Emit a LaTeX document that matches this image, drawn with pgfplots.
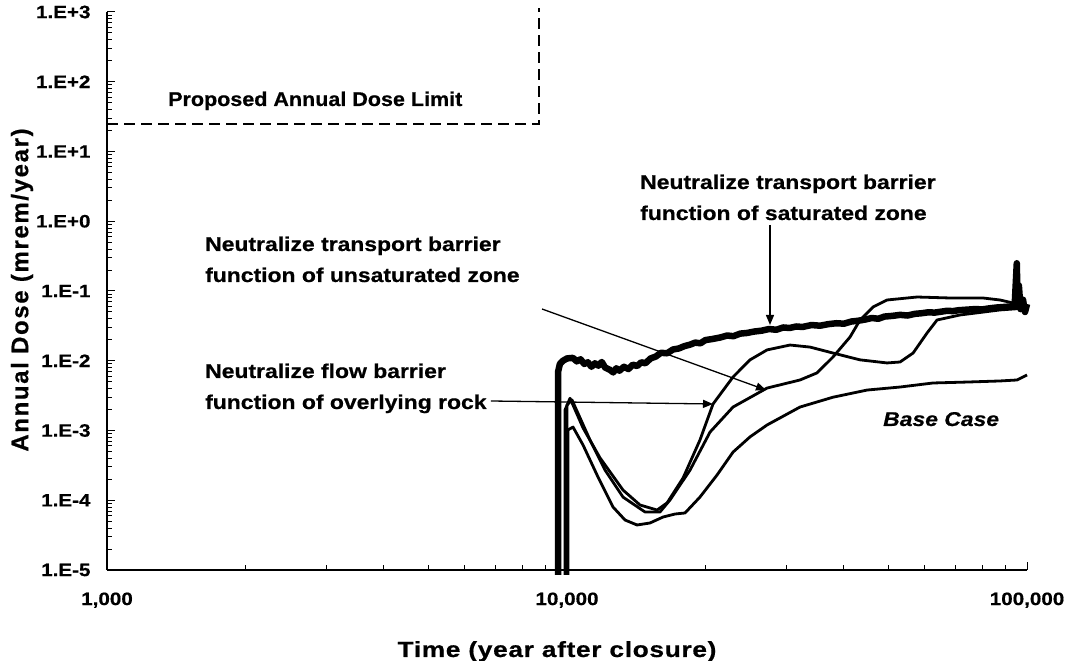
\documentclass[border=0pt]{standalone}
\usepackage{fontspec}
\setmainfont{Liberation Sans}
\usepackage{pgfplots}
\pgfplotsset{compat=1.18}
\usetikzlibrary{arrows.meta}
\newfontfamily\tickfont[FakeStretch=1.15,FakeBold=0.6]{Liberation Sans}
\newfontfamily\annfont[FakeStretch=1.15,FakeBold=0.6]{Liberation Sans}
\newfontfamily\propfont[FakeStretch=1.08,FakeBold=0.6]{Liberation Sans}
\newfontfamily\ylabfont[LetterSpace=7,FakeBold=0.6]{Liberation Sans}
\newfontfamily\xlabfont[FakeStretch=1.2,LetterSpace=3,FakeBold=0.6]{Liberation Sans}
\begin{document}
\begin{tikzpicture}[x=1bp,y=1bp]
\begin{axis}[
  at={(0,0)}, anchor=south west,
  scale only axis, width=920bp, height=558bp,
  xmode=log, ymode=log,
  xmin=1000, xmax=100000, ymin=1e-5, ymax=1e3,
  axis lines*=left,
  axis line style={line width=1.6bp},
  clip=false,
  xtick={1000,10000,100000},
  xticklabels={{1,000},{10,000},{100,000}},
  minor xtick={2000,3000,4000,5000,6000,7000,8000,9000,20000,30000,40000,50000,60000,70000,80000,90000},
  ytick={1e-5,1e-4,1e-3,1e-2,1e-1,1,10,100,1000},
  yticklabels={1.E-5,1.E-4,1.E-3,1.E-2,1.E-1,1.E+0,1.E+1,1.E+2,1.E+3},
  minor ytick={2e-5,3e-5,4e-5,5e-5,6e-5,7e-5,8e-5,9e-5,
    2e-4,3e-4,4e-4,5e-4,6e-4,7e-4,8e-4,9e-4,
    2e-3,3e-3,4e-3,5e-3,6e-3,7e-3,8e-3,9e-3,
    2e-2,3e-2,4e-2,5e-2,6e-2,7e-2,8e-2,9e-2,
    0.2,0.3,0.4,0.5,0.6,0.7,0.8,0.9,
    2,3,4,5,6,7,8,9,
    20,30,40,50,60,70,80,90,
    200,300,400,500,600,700,800,900},
  tick align=inside,
  major tick length=8bp, minor tick length=5bp,
  every tick/.style={black, line width=1bp},
  ticklabel style={font=\tickfont\bfseries\fontsize{18}{20}\selectfont},
  yticklabel style={xshift=-13bp},
  xticklabel style={yshift=-19bp},
]
% proposed annual dose limit (25 mrem/year)
\addplot[black, line width=1.6bp, dash pattern=on 11bp off 6bp] coordinates {(1000,25) (8700,25) (8700,1150)};

% Base case
\addplot[black, line width=2.8bp, line join=round] coordinates {
(10050,8.5e-6) (10050,0.00102) (10305,0.00112) (10834,0.00062) (11623,0.00023) (12589,0.00008)
(13368,0.0000521) (14197,0.0000442) (15147,0.0000472) (16172,0.0000575) (17172,0.0000635)
(18052,0.0000657) (19457,0.000111) (21190,0.00023) (22956,0.00049) (24994,0.00081)
(27220,0.0012) (32103,0.00217) (37862,0.0030) (44898,0.0038) (52967,0.0042) (62477,0.0048)
(74055,0.00495) (87367,0.00513) (95127,0.0053) (100000,0.00625)};

% Neutralize flow barrier function of overlying rock
\addplot[black, line width=2.8bp, line join=round] coordinates {
(9900,8.5e-6) (9900,0.00197) (10151,0.0029) (10834,0.00109) (11799,0.000404) (13234,0.000140)
(14411,0.0000855) (15694,0.0000724) (16499,0.0000915) (17874,0.000208) (19457,0.00073)
(20770,0.0024) (22956,0.00585) (24994,0.0103) (27220,0.0143) (30533,0.0168) (33754,0.0157)
(37862,0.0129) (43352,0.0103) (49621,0.0093) (52967,0.0096) (56538,0.0129) (60632,0.025)
(63747,0.0384) (71510,0.0453) (87367,0.0535) (100000,0.057)};

% Neutralize transport barrier function of unsaturated zone
\addplot[black, line width=2.8bp, line join=round] coordinates {
(10000,8.5e-6) (10000,0.00232) (10253,0.00274) (11220,0.00073) (12097,0.00027) (13234,0.000111)
(14776,0.0000679) (15928,0.0000679) (16748,0.000101) (18509,0.00027) (20461,0.00095)
(22956,0.00217) (27220,0.00406) (32103,0.0053) (34956,0.0067) (37862,0.0113) (41234,0.0219)
(43352,0.0384) (46265,0.059) (49621,0.0743) (57684,0.082) (68027,0.0794) (80238,0.0794)
(87367,0.0743) (93245,0.0673) (100000,0.057)};

% Neutralize transport barrier function of saturated zone
\addplot[black, line width=6.5bp, line join=round] coordinates {
(9560,8.5e-6) (9560,0.0069) (9650,0.0090) (9800,0.0100) (10000,0.0108) (10300,0.0110)
(10500,0.0098) (10700,0.0105) (10900,0.0090) (11100,0.0095) (11300,0.0082) (11500,0.0092)
(11700,0.0085) (11900,0.0096) (12100,0.0080) (12400,0.0074) (12600,0.0068) (12800,0.0078)
(13000,0.0072) (13300,0.0082) (13600,0.0076) (13900,0.0088) (14200,0.0084) (14500,0.0095)
(14800,0.0092) (15200,0.0108) (15600,0.0115) (16000,0.0130) (16500,0.0128) (17000,0.0145)
(17500,0.0150) (18000,0.0162) (18500,0.0170) (19000,0.0182) (19500,0.0178) (20000,0.0198)
(20700,0.0205) (21500,0.0215) (22300,0.0230) (23000,0.0225) (23800,0.0245) (24600,0.0250)
(25500,0.0262) (26500,0.0270) (27500,0.0285) (28500,0.0278) (29500,0.0300) (30500,0.0295)
(31500,0.0310) (32500,0.0305) (34000,0.0325) (35500,0.0318) (37000,0.0335) (38500,0.0345)
(40000,0.0340) (41500,0.0365) (43000,0.0375) (44500,0.0390) (46000,0.0410) (47500,0.0400)
(49000,0.0430) (51000,0.0440) (53000,0.0455) (55000,0.0445) (57000,0.0470) (59000,0.0480)
(61000,0.0495) (63000,0.0490) (65000,0.0505) (67000,0.0520) (69000,0.0515) (71000,0.0530)
(74000,0.0540) (77000,0.0550) (80000,0.0545) (83000,0.0565) (86000,0.0580) (89000,0.0590)
(92000,0.0600) (94000,0.0620) (95000,0.25) (95400,0.065) (96000,0.12) (96800,0.055)
(98000,0.075) (99000,0.050) (100000,0.065)};
\end{axis}

% annotations
\node[anchor=base west, inner sep=0] at (61,464) {\propfont\bfseries\fontsize{20}{24}\selectfont Proposed Annual Dose Limit};
\node[anchor=base west, inner sep=0] at (533,381) {\annfont\bfseries\fontsize{20}{24}\selectfont Neutralize transport barrier};
\node[anchor=base west, inner sep=0] at (533,350) {\annfont\bfseries\fontsize{20}{24}\selectfont function of saturated zone};
\node[anchor=base west, inner sep=0] at (98,319) {\annfont\bfseries\fontsize{20}{24}\selectfont Neutralize transport barrier};
\node[anchor=base west, inner sep=0] at (98,288) {\annfont\bfseries\fontsize{20}{24}\selectfont function of unsaturated zone};
\node[anchor=base west, inner sep=0] at (98,192) {\annfont\bfseries\fontsize{20}{24}\selectfont Neutralize flow barrier};
\node[anchor=base west, inner sep=0] (rock) at (98,161) {\annfont\bfseries\fontsize{20}{24}\selectfont function of overlying rock};
\node[anchor=base west, inner sep=0] at (776,144) {\annfont\bfseries\itshape\fontsize{20}{24}\selectfont Base Case};

\draw[line width=1.3bp, -{Triangle[length=10bp,width=8bp]}] (663,345) -- (663,245);
\draw[line width=1.3bp, -{Triangle[length=10bp,width=8bp]}] (435,261) -- (659,180);
\draw[line width=1.3bp, -{Triangle[length=10bp,width=8bp]}] ([xshift=4bp,yshift=8bp]rock.base east) -- (606,166);

% axis titles
\node[anchor=base, inner sep=0] at (450,-87) {\xlabfont\bfseries\fontsize{22}{26}\selectfont Time (year after closure)};
\node[rotate=90, inner sep=0] at (-85,280) {\ylabfont\bfseries\fontsize{24}{28}\selectfont Annual Dose (mrem/year)};

\pgfresetboundingbox
\path (-107,-91) rectangle (966,570);
\end{tikzpicture}
\end{document}
